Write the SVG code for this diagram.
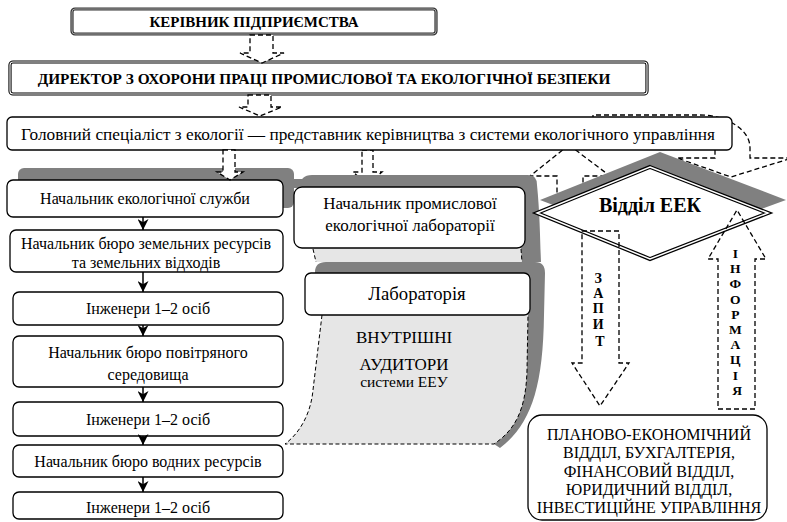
<svg xmlns="http://www.w3.org/2000/svg" width="787" height="522" viewBox="0 0 787 522">
  <style>
    .box{fill:#fff;stroke:#000;stroke-width:1.3}
    .t{font-family:"Liberation Serif","Times New Roman",serif;fill:#000;text-anchor:middle}
    .b{font-weight:bold}
    .col{font-size:16px}
    .dash{fill:#fff;stroke:#000;stroke-width:1.3;stroke-dasharray:5 3}
    .dl{fill:none;stroke:#000;stroke-width:1.3;stroke-dasharray:5 3}
    .fine{fill:none;stroke:#000;stroke-width:1;stroke-dasharray:4 2.5}
    .shade{fill:#808080}
    .light{fill:#e6e6e6}
    .solid{stroke:#000;stroke-width:1.5;fill:none}
  </style>
  <defs>
    <marker id="ah" viewBox="0 0 10 10" refX="10" refY="5" markerWidth="11" markerHeight="11" markerUnits="userSpaceOnUse" orient="auto">
      <path d="M0,0 L10,5 L0,10 L3,5 Z" fill="#000"/>
    </marker>
  </defs>

  <rect width="787" height="522" fill="#fff"/>

  <!-- shadow band behind the first box of the left column -->
  <g id="left-band">
    <rect class="shade" x="18" y="168" width="276" height="40" rx="6"/>
    <rect class="shade" x="288" y="179" width="18" height="9"/>
  </g>

  <!-- connectors lying under other shapes -->
  <g id="connectors-under">
    <polygon class="dash" points="362,150 373,150 373,172 382,172 367,184 353,172 362,172"/>
    <path class="dl" d="M569,145 L610,176 L583,176 L583,212 L557,212 L557,176 L530,176 Z"/>
    <path class="dl" d="M593,120 L593,115 L700,115 C724,115 750,128 750,148 L750,158 L792,158 L731,177 L677,158 L715,158 L715,140"/>
  </g>

  <!-- top chain -->
  <g id="n-head">
    <rect x="72" y="9" width="364" height="25" rx="3" fill="#fff" stroke="#333" stroke-width="3.2"/>
    <rect x="72" y="9" width="364" height="25" rx="3" fill="none" stroke="#aaa" stroke-width="1"/>
    <text class="t b" x="254" y="26.5" font-size="15">КЕРІВНИК ПІДПРИЄМСТВА</text>
  </g>
  <g id="n-director">
    <rect x="10" y="62" width="637" height="32" rx="3" fill="#fff" stroke="#000" stroke-width="3.2"/>
    <rect x="10" y="62" width="637" height="32" rx="3" fill="none" stroke="#fff" stroke-width="1.1"/>
    <text class="t b" x="324" y="83.5" font-size="15.3">ДИРЕКТОР З ОХОРОНИ ПРАЦІ ПРОМИСЛОВОЇ ТА ЕКОЛОГІЧНОЇ БЕЗПЕКИ</text>
  </g>
  <g id="n-chief">
    <rect class="box" x="7" y="117" width="725" height="33" rx="5"/>
    <text class="t" x="368" y="139.5" font-size="17.3">Головний спеціаліст з екології — представник керівництва з системи екологічного управління</text>
  </g>

  <!-- left column -->
  <g id="n-eco-service">
    <rect class="box" x="7" y="180" width="276" height="37" rx="6"/>
    <text class="t col" x="145" y="204">Начальник екологічної служби</text>
  </g>
  <g id="n-land">
    <rect class="box" x="10" y="230" width="273" height="42" rx="6"/>
    <text class="t col" x="146" y="249">Начальник бюро земельних ресурсів</text>
    <text class="t col" x="146" y="268">та земельних відходів</text>
  </g>
  <g id="n-eng1">
    <rect class="box" x="13" y="292" width="270" height="33" rx="6"/>
    <text class="t col" x="148" y="313.5">Інженери 1–2 осіб</text>
  </g>
  <g id="n-air">
    <rect class="box" x="13" y="336" width="270" height="51" rx="6"/>
    <text class="t col" x="148" y="358">Начальник бюро повітряного</text>
    <text class="t col" x="148" y="380">середовища</text>
  </g>
  <g id="n-eng2">
    <rect class="box" x="13" y="402" width="270" height="34" rx="6"/>
    <text class="t col" x="148" y="424.5">Інженери 1–2 осіб</text>
  </g>

  <!-- middle column: laboratory and internal auditors -->
  <g id="n-lab-head">
    <path class="shade" d="M300,187 Q300,175 312,175 L528,175 Q537,175 537,185 C540,215 540,240 541,262 L520,262 L520,248 L300,248 Z"/>
    <polygon class="light" points="313,248 521,248 522,262 316,262"/>
    <line class="fine" x1="313" y1="249" x2="316" y2="262"/>
    <line class="fine" x1="521" y1="249" x2="522" y2="262"/>
    <rect class="box" x="294" y="187" width="231" height="61" rx="8"/>
    <text class="t" x="410" y="209" font-size="17">Начальник промислової</text>
    <text class="t" x="410" y="231" font-size="17">екологічної лабораторії</text>
  </g>
  <g id="n-auditors">
    <path class="shade" d="M315,272 Q315,262 326,262 L535,262 Q545,262 545,273 L544,315 C543,390 530,425 500,448 L494,444 L528,315 L315,315 Z"/>
    <path class="light" d="M322,315 L528,315 L527,370 C526,410 515,430 494,444 L285,444 C301,432 311,412 313,390 Z"/>
    <path class="fine" d="M322,315 L313,390 C311,412 301,432 285,444 L494,444 C515,430 526,410 527,370 L528,315"/>
    <text class="t" x="404" y="343" font-size="17">ВНУТРІШНІ</text>
    <text class="t" x="404" y="370" font-size="17">АУДИТОРИ</text>
    <text class="t" x="404" y="387" font-size="15.5">системи ЕЕУ</text>
  </g>
  <g id="n-lab">
    <rect class="box" x="305" y="273" width="225" height="42" rx="6"/>
    <text class="t" x="417" y="300" font-size="18.7">Лабораторія</text>
  </g>

  <g id="n-water">
    <rect class="box" x="13" y="445" width="270" height="32" rx="6"/>
    <text class="t col" x="148" y="466.5">Начальник бюро водних ресурсів</text>
  </g>
  <g id="n-eng3">
    <rect class="box" x="13" y="492" width="270" height="27" rx="6"/>
    <text class="t col" x="148" y="512.5">Інженери 1–2 осіб</text>
  </g>

  <!-- department diamond -->
  <g id="n-eek">
    <polygon class="shade" points="660,152 786,200 660,246 540,200"/>
    <polygon points="650,167 768,213 650,259 537,213" fill="#fff" stroke="#000" stroke-width="4" stroke-linejoin="miter"/>
    <polygon points="650,167 768,213 650,259 537,213" fill="none" stroke="#fff" stroke-width="1.5"/>
    <text class="t b" x="650" y="212" font-size="20">Відділ ЕЕК</text>
  </g>

  <!-- finance and planning units -->
  <g id="n-finance">
    <rect class="box" x="528" y="415" width="239" height="105" rx="14"/>
    <text class="t" x="649" y="440" font-size="16">ПЛАНОВО-ЕКОНОМІЧНИЙ</text>
    <text class="t" x="649" y="458" font-size="16">ВІДДІЛ, БУХГАЛТЕРІЯ,</text>
    <text class="t" x="649" y="477" font-size="16">ФІНАНСОВИЙ ВІДДІЛ,</text>
    <text class="t" x="649" y="495" font-size="16">ЮРИДИЧНИЙ ВІДДІЛ,</text>
    <text class="t" x="649" y="513" font-size="16">ІНВЕСТИЦІЙНЕ УПРАВЛІННЯ</text>
  </g>

  <!-- connectors -->
  <g id="connectors">
    <polygon class="dash" points="250,35 273,35 273,53 284,53 262,63 240,53 250,53"/>
    <polygon class="dash" points="248,95 271,95 271,107 282,107 260,116 239,107 248,107"/>
    <polygon class="dash" points="223,150 235,150 235,172 243,172 230,180 217,172 223,172"/>

    <line class="solid" x1="143" y1="217" x2="143" y2="230" marker-end="url(#ah)"/>
    <line class="solid" x1="143" y1="272" x2="143" y2="292" marker-end="url(#ah)"/>
    <line class="solid" x1="143" y1="325" x2="143" y2="336" marker-end="url(#ah)"/>
    <line class="solid" x1="143" y1="387" x2="143" y2="402" marker-end="url(#ah)"/>
    <line class="solid" x1="143" y1="436" x2="143" y2="445" marker-end="url(#ah)"/>
    <line class="solid" x1="143" y1="477" x2="143" y2="492" marker-end="url(#ah)"/>

    <g id="c-request">
      <polygon class="dl" points="582,231 619,231 619,363 629,363 600,406 572,363 582,363"/>
      <text class="t b" x="600" font-size="14">
        <tspan x="600" y="283">З</tspan>
        <tspan x="600" y="298">А</tspan>
        <tspan x="600" y="313">П</tspan>
        <tspan x="600" y="329">И</tspan>
        <tspan x="600" y="346">Т</tspan>
      </text>
    </g>
    <g id="c-info">
      <polygon class="dl" points="718,409 755,409 755,259 766,259 737,210 708,259 718,259"/>
      <text class="t b" x="737" font-size="13.5">
        <tspan x="737" y="258">І</tspan>
        <tspan x="737" y="273">Н</tspan>
        <tspan x="737" y="288">Ф</tspan>
        <tspan x="737" y="304">О</tspan>
        <tspan x="737" y="319">Р</tspan>
        <tspan x="737" y="334">М</tspan>
        <tspan x="737" y="349">А</tspan>
        <tspan x="737" y="364">Ц</tspan>
        <tspan x="737" y="380">І</tspan>
        <tspan x="737" y="395">Я</tspan>
      </text>
    </g>
  </g>
</svg>
